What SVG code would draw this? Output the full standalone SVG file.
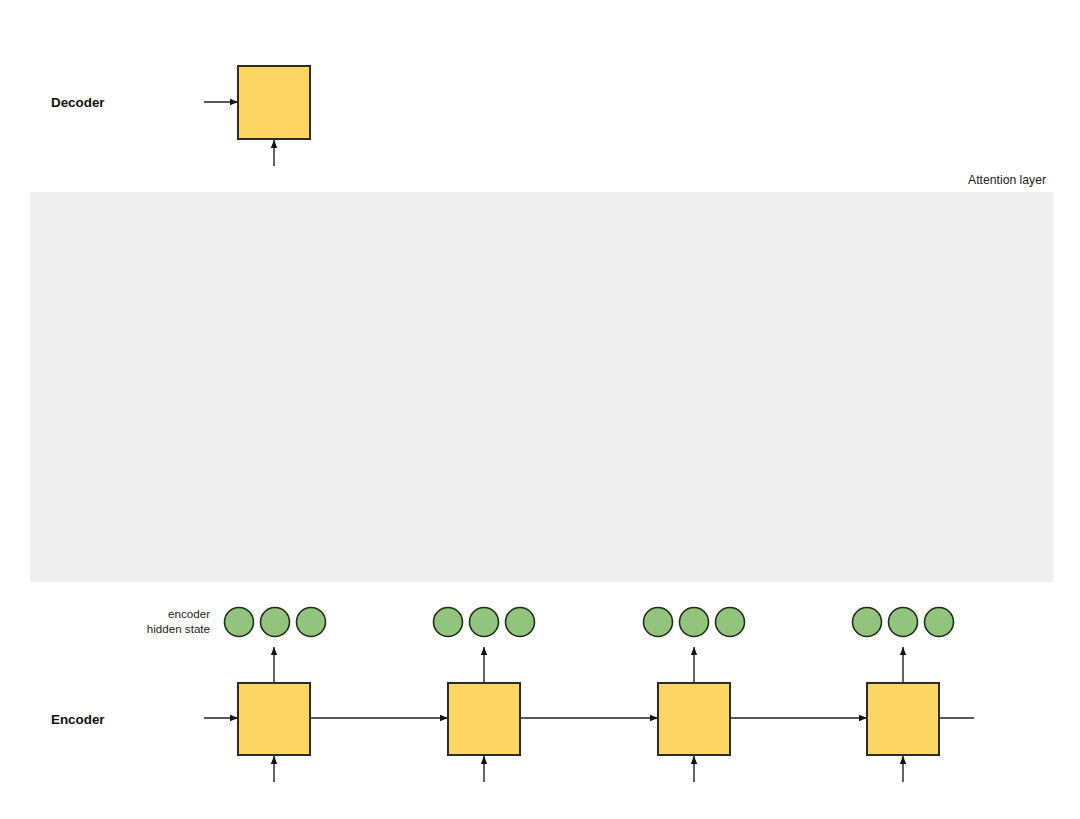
<svg xmlns="http://www.w3.org/2000/svg" width="1080" height="819" viewBox="0 0 1080 819">
<style>
.lbl{font-family:"Liberation Sans",Arial,sans-serif;font-weight:bold;font-size:13.4px;fill:#111}
.sm{font-family:"Liberation Sans",Arial,sans-serif;font-size:11.6px;fill:#222}
.box{fill:#fdd663;stroke:#2b2b2b;stroke-width:2}
.hs{fill:#93c47d;stroke:#1f2e18;stroke-width:1.6}
.ln{stroke:#222;stroke-width:1.4;fill:none}
</style>
<defs>
<marker id="ah" viewBox="0 0 10 10" refX="10" refY="5" markerWidth="8" markerHeight="8" markerUnits="userSpaceOnUse" orient="auto">
<path d="M0,1 L10,5 L0,9 Z" fill="#111"/>
</marker>
</defs>
<rect width="1080" height="819" fill="#fff"/>
<g id="attention">
<rect x="30" y="192" width="1023" height="390" fill="#efefef"/>
<text class="sm" x="1046" y="184" text-anchor="end" style="font-size:12.2px">Attention layer</text>
</g>
<g id="labels">
<text class="lbl" x="51" y="107">Decoder</text>
<text class="lbl" x="51" y="724">Encoder</text>
<text class="sm" x="210" y="618" text-anchor="end">encoder</text>
<text class="sm" x="210" y="633" text-anchor="end">hidden state</text>
</g>
<g id="connectors">
<line class="ln" x1="204" y1="102" x2="238" y2="102" marker-end="url(#ah)"/>
<line class="ln" x1="274" y1="166" x2="274" y2="140" marker-end="url(#ah)"/>
<line class="ln" x1="204" y1="718" x2="238" y2="718" marker-end="url(#ah)"/>
<line class="ln" x1="310" y1="718" x2="448" y2="718" marker-end="url(#ah)"/>
<line class="ln" x1="520" y1="718" x2="658" y2="718" marker-end="url(#ah)"/>
<line class="ln" x1="730" y1="718" x2="867" y2="718" marker-end="url(#ah)"/>
<line class="ln" x1="939" y1="718" x2="974" y2="718"/>
<line class="ln" x1="274" y1="782" x2="274" y2="756" marker-end="url(#ah)"/>
<line class="ln" x1="484" y1="782" x2="484" y2="756" marker-end="url(#ah)"/>
<line class="ln" x1="694" y1="782" x2="694" y2="756" marker-end="url(#ah)"/>
<line class="ln" x1="903" y1="782" x2="903" y2="756" marker-end="url(#ah)"/>
<line class="ln" x1="274" y1="683" x2="274" y2="647" marker-end="url(#ah)"/>
<line class="ln" x1="484" y1="683" x2="484" y2="647" marker-end="url(#ah)"/>
<line class="ln" x1="694" y1="683" x2="694" y2="647" marker-end="url(#ah)"/>
<line class="ln" x1="903" y1="683" x2="903" y2="647" marker-end="url(#ah)"/>
</g>
<g id="decoder"><rect class="box" x="238" y="66" width="72" height="73"/></g>
<g id="encoder1"><rect class="box" x="238" y="683" width="72" height="72"/></g>
<g id="encoder2"><rect class="box" x="448" y="683" width="72" height="72"/></g>
<g id="encoder3"><rect class="box" x="658" y="683" width="72" height="72"/></g>
<g id="encoder4"><rect class="box" x="867" y="683" width="72" height="72"/></g>
<g id="hidden1"><circle class="hs" cx="239" cy="622" r="14.5"/><circle class="hs" cx="275" cy="622" r="14.5"/><circle class="hs" cx="311" cy="622" r="14.5"/></g>
<g id="hidden2"><circle class="hs" cx="448" cy="622" r="14.5"/><circle class="hs" cx="484" cy="622" r="14.5"/><circle class="hs" cx="520" cy="622" r="14.5"/></g>
<g id="hidden3"><circle class="hs" cx="658" cy="622" r="14.5"/><circle class="hs" cx="694" cy="622" r="14.5"/><circle class="hs" cx="730" cy="622" r="14.5"/></g>
<g id="hidden4"><circle class="hs" cx="867" cy="622" r="14.5"/><circle class="hs" cx="903" cy="622" r="14.5"/><circle class="hs" cx="939" cy="622" r="14.5"/></g>
</svg>
